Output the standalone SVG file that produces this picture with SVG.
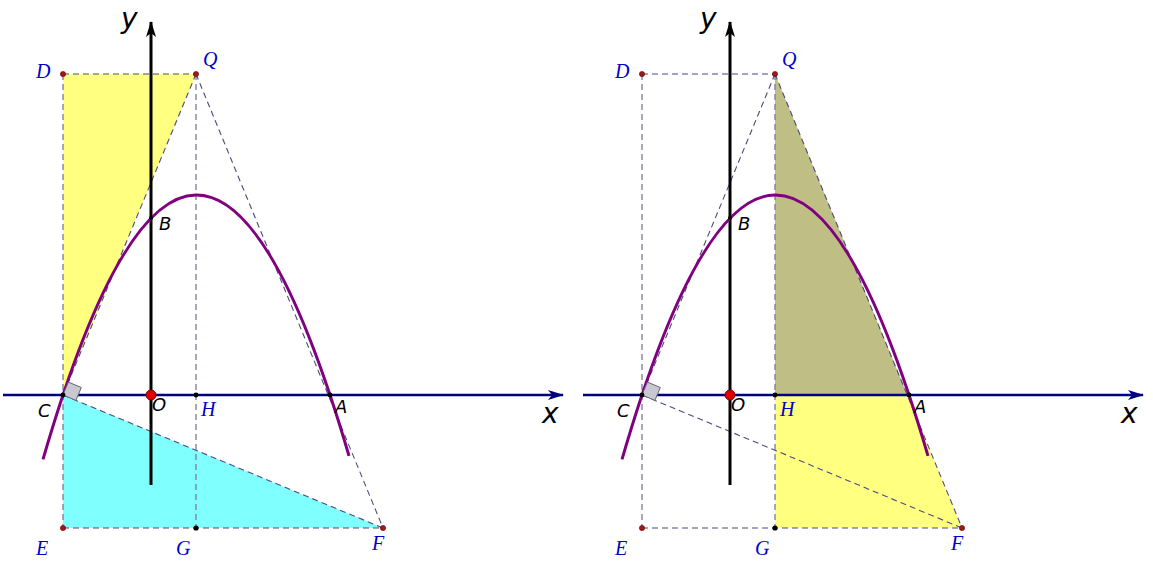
<svg xmlns="http://www.w3.org/2000/svg" width="1153" height="564" viewBox="0 0 1153 564">
<style>
.dash{fill:none;stroke:#4b4b80;stroke-width:1.1;stroke-dasharray:6,4}
.vdash{fill:none;stroke:#7a7a99;stroke-width:1.3;stroke-dasharray:6,4}
.xaxis{stroke:#000080;stroke-width:2.5;fill:none}
.yaxis{stroke:#000;stroke-width:3;fill:none}
.para{stroke:#800080;stroke-width:3;fill:none}
.lblB{font-family:"Liberation Serif",serif;font-style:italic;font-size:20px;fill:#0000cc}
.lblK{font-family:"DejaVu Sans",sans-serif;font-style:oblique;font-size:18px;fill:#000}
.axl{font-family:"DejaVu Sans",sans-serif;font-style:oblique;font-size:28px;fill:#000}
.rdot{fill:#a01818;stroke:#600;stroke-width:0.6}
.kdot{fill:#000}
.ra{fill:#c8c8d2;stroke:#666;stroke-width:1}
</style>
<defs>
<marker id="arrN" viewBox="0 0 16 10" markerWidth="16" markerHeight="10" refX="15" refY="5" orient="auto" markerUnits="userSpaceOnUse"><path d="M0,0 L16,5 L0,10 L4,5 z" fill="#000080"/></marker>
<marker id="arrK" viewBox="0 0 16 10" markerWidth="16" markerHeight="10" refX="15" refY="5" orient="auto" markerUnits="userSpaceOnUse"><path d="M0,0 L16,5 L0,10 L4,5 z" fill="#000"/></marker>
</defs>
<rect width="1153" height="564" fill="#fff"/>

<!-- LEFT PANEL -->
<g id="left-fills">
<polygon points="63,74 196,74 63,395" fill="#ffff80"/>
<polygon points="63,395 63,528 383,528" fill="#80ffff"/>
</g>
<g id="left-connectors">
<line class="dash" x1="63" y1="74" x2="196" y2="74"/>
<line class="vdash" x1="63" y1="74" x2="63" y2="528"/>
<line class="vdash" x1="196" y1="74" x2="196" y2="528"/>
<line class="dash" x1="63" y1="528" x2="383" y2="528"/>
<line class="dash" x1="196" y1="74" x2="63" y2="395"/>
<line class="dash" x1="196" y1="74" x2="383" y2="528"/>
<line class="dash" x1="63" y1="395" x2="383" y2="528"/>
</g>
<g id="left-axes">
<line class="xaxis" x1="3" y1="395" x2="563" y2="395" marker-end="url(#arrN)"/>
<line class="yaxis" x1="151" y1="485" x2="151" y2="22" marker-end="url(#arrK)"/>
<text class="axl" x="542" y="423">x</text>
<text class="axl" x="121" y="28">y</text>
</g>
<path id="left-parabola" class="para" d="M43,459.4 Q196,-67.6 349,455.9"/>
<polygon class="ra" points="63,395 68.4,382.1 81.3,387.5 75.9,400.4"/>
<g id="L-D"><circle class="rdot" cx="63" cy="74" r="2.6"/><text class="lblB" x="36" y="78">D</text></g>
<g id="L-Q"><circle class="rdot" cx="196" cy="74" r="2.6"/><text class="lblB" x="203" y="66">Q</text></g>
<g id="L-E"><circle class="rdot" cx="63" cy="528" r="2.6"/><text class="lblB" x="36" y="555">E</text></g>
<g id="L-G"><circle class="kdot" cx="196" cy="528" r="2.6"/><text class="lblB" x="176" y="555">G</text></g>
<g id="L-F"><circle class="rdot" cx="383" cy="528" r="2.6"/><text class="lblB" x="372" y="550">F</text></g>
<g id="L-H"><circle class="kdot" cx="196" cy="395" r="2.4"/><text class="lblB" x="201" y="416">H</text></g>
<g id="L-C"><circle class="kdot" cx="63" cy="395" r="2.4"/><text class="lblK" x="38" y="417">C</text></g>
<g id="L-A"><circle class="kdot" cx="330" cy="395" r="2.4"/><text class="lblK" x="335" y="413">A</text></g>
<g id="L-B"><circle class="kdot" cx="151" cy="218" r="2"/><text class="lblK" x="159" y="230">B</text></g>
<g id="L-O"><circle cx="151" cy="395" r="5" fill="#e00000" stroke="#800000" stroke-width="1"/><text class="lblK" x="152" y="411">O</text></g>

<!-- RIGHT PANEL -->
<g id="right-fills">
<polygon points="775,74 775,528 962,528" fill="#ffff80"/>
<polygon points="775,74 775,395 907.5,395" fill="#bfbf85"/>
</g>
<g id="right-connectors">
<line class="dash" x1="642" y1="74" x2="775" y2="74"/>
<line class="vdash" x1="642" y1="74" x2="642" y2="528"/>
<line class="vdash" x1="775" y1="74" x2="775" y2="528"/>
<line class="dash" x1="642" y1="528" x2="962" y2="528"/>
<line class="dash" x1="775" y1="74" x2="642" y2="395"/>
<line class="dash" x1="775" y1="74" x2="962" y2="528"/>
<line class="dash" x1="642" y1="395" x2="962" y2="528"/>
</g>
<g id="right-axes">
<line class="xaxis" x1="583" y1="395" x2="1143" y2="395" marker-end="url(#arrN)"/>
<line class="yaxis" x1="730" y1="485" x2="730" y2="22" marker-end="url(#arrK)"/>
<text class="axl" x="1121" y="423">x</text>
<text class="axl" x="700" y="28">y</text>
</g>
<path id="right-parabola" class="para" d="M622,459.4 Q775,-67.6 928,455.9"/>
<polygon class="ra" points="642,395 647.4,382.1 660.3,387.5 654.9,400.4"/>
<g id="R-D"><circle class="rdot" cx="642" cy="74" r="2.6"/><text class="lblB" x="615" y="78">D</text></g>
<g id="R-Q"><circle class="rdot" cx="775" cy="74" r="2.6"/><text class="lblB" x="782" y="66">Q</text></g>
<g id="R-E"><circle class="rdot" cx="642" cy="528" r="2.6"/><text class="lblB" x="615" y="555">E</text></g>
<g id="R-G"><circle class="kdot" cx="775" cy="528" r="2.6"/><text class="lblB" x="755" y="555">G</text></g>
<g id="R-F"><circle class="rdot" cx="962" cy="528" r="2.6"/><text class="lblB" x="951" y="550">F</text></g>
<g id="R-H"><circle class="kdot" cx="775" cy="395" r="2.4"/><text class="lblB" x="780" y="416">H</text></g>
<g id="R-C"><circle class="kdot" cx="642" cy="395" r="2.4"/><text class="lblK" x="617" y="417">C</text></g>
<g id="R-A"><circle class="kdot" cx="909" cy="395" r="2.4"/><text class="lblK" x="914" y="413">A</text></g>
<g id="R-B"><circle class="kdot" cx="730" cy="218" r="2"/><text class="lblK" x="738" y="230">B</text></g>
<g id="R-O"><circle cx="730" cy="395" r="5" fill="#e00000" stroke="#800000" stroke-width="1"/><text class="lblK" x="731" y="411">O</text></g>
</svg>
